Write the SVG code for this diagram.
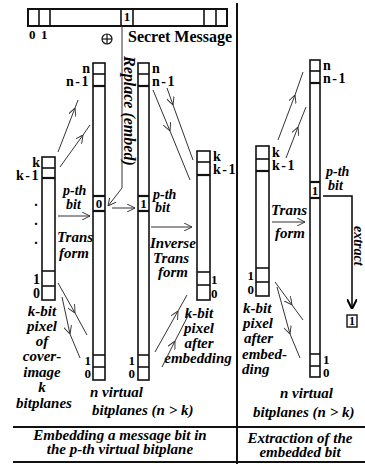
<svg xmlns="http://www.w3.org/2000/svg" width="365" height="464" viewBox="0 0 365 464">
<defs>
<marker id="v" viewBox="0 0 10 10" refX="10" refY="5" markerWidth="8" markerHeight="8" markerUnits="userSpaceOnUse" orient="auto"><path d="M0,0 L10,5 L0,10" fill="none" stroke="#333" stroke-width="1.2"/></marker>
<marker id="vb" viewBox="0 0 10 10" refX="10" refY="5" markerWidth="10" markerHeight="10" markerUnits="userSpaceOnUse" orient="auto"><path d="M0,0 L10,5 L0,10" fill="none" stroke="#000" stroke-width="2"/></marker>
</defs>
<style>
.box{fill:#fff;stroke:#111;stroke-width:1.6}
.ln{stroke:#111;stroke-width:1.6;fill:none}
.c{fill:none;stroke:#333;stroke-width:1}
.m{marker-mid:url(#v)}
.e{marker-end:url(#v)}
.t{font-family:"Liberation Serif","Times New Roman","DejaVu Serif",serif;font-weight:bold;font-size:13px;fill:#000}
.i{font-family:"Liberation Serif","Times New Roman","DejaVu Serif",serif;font-weight:bold;font-style:italic;font-size:15px;fill:#000}
.cap{font-family:"Liberation Serif","Times New Roman","DejaVu Serif",serif;font-weight:bold;font-style:italic;font-size:15px;fill:#000;text-anchor:middle}
.r{text-anchor:end}
.mid{text-anchor:middle}
.s12{font-size:12px}
.s14{font-size:14px}
.s16{font-size:16px}
.ls{letter-spacing:1.5px}
</style>
<rect width="365" height="464" fill="#fff"/>

<g id="frame">
<line class="ln" x1="237" y1="3" x2="237" y2="464" style="stroke-width:2"/>
<line class="ln" x1="13" y1="427" x2="365" y2="427" style="stroke-width:2"/>
<line class="ln" x1="13" y1="462" x2="365" y2="462" style="stroke-width:2"/>
</g>

<g id="secret-message">
<rect class="box" x="28" y="9" width="199" height="17" style="stroke-width:2"/>
<line class="ln" x1="39" y1="9" x2="39" y2="26"/>
<line class="ln" x1="50" y1="9" x2="50" y2="26"/>
<line class="ln" x1="121" y1="9" x2="121" y2="26"/>
<line class="ln" x1="133" y1="9" x2="133" y2="26"/>
<line class="ln" x1="204" y1="9" x2="204" y2="26"/>
<line class="ln" x1="216" y1="9" x2="216" y2="26"/>
<text class="t mid" x="127" y="21">1</text>
<text class="t" x="29" y="39">0</text>
<text class="t" x="41" y="39">1</text>
<text class="t s16" x="128" y="42">Secret Message</text>
</g>

<g id="xor">
<circle cx="107" cy="39" r="5" fill="none" stroke="#111" stroke-width="1.2"/>
<line x1="102" y1="39" x2="112" y2="39" stroke="#111" stroke-width="1.2"/>
<line x1="107" y1="34" x2="107" y2="44" stroke="#111" stroke-width="1.2"/>
</g>

<g id="cover-pixel">
<rect class="box" x="42" y="157" width="13" height="143"/>
<line class="ln" x1="42" y1="168" x2="55" y2="168"/>
<line class="ln" x1="42" y1="178" x2="55" y2="178" style="stroke-width:2.2"/>
<line class="ln" x1="42" y1="271" x2="55" y2="271"/>
<line class="ln" x1="42" y1="286" x2="55" y2="286"/>
<text class="t s14 r" x="40" y="167">k</text>
<text class="t s14 r ls" x="40" y="180">k-1</text>
<text class="t s14 r" x="40" y="284">1</text>
<text class="t s14 r" x="40" y="298">0</text>
<text class="t s14 mid" x="36" y="206">.</text>
<text class="t s14 mid" x="36" y="225">.</text>
<text class="t s14 mid" x="36" y="244">.</text>
<text class="i mid" x="42" y="316">k-bit</text>
<text class="i mid" x="42" y="331">pixel</text>
<text class="i mid" x="42" y="346">of</text>
<text class="i mid" x="42" y="361">cover-</text>
<text class="i mid" x="42" y="377">image</text>
<text class="i mid" x="42" y="392">k</text>
<text class="i mid" x="44" y="408">bitplanes</text>
</g>

<g id="virtual-planes-1">
<rect class="box" x="93" y="63" width="12" height="317"/>
<line class="ln" x1="93" y1="74" x2="105" y2="74"/>
<line class="ln" x1="93" y1="86" x2="105" y2="86" style="stroke-width:2.2"/>
<line class="ln" x1="93" y1="196" x2="105" y2="196" style="stroke-width:2.2"/>
<line class="ln" x1="93" y1="211" x2="105" y2="211" style="stroke-width:2.2"/>
<line class="ln" x1="93" y1="355" x2="105" y2="355"/>
<line class="ln" x1="93" y1="367" x2="105" y2="367"/>
<text class="t mid" x="99" y="208">0</text>
<text class="t s14 r" x="90" y="73">n</text>
<text class="t s14 r ls" x="90" y="86">n-1</text>
<text class="t r" x="91" y="365">1</text>
<text class="t r" x="91" y="378">0</text>
<text class="i s14" x="63" y="195">p-th</text>
<text class="i s14" x="66" y="209">bit</text>
<text class="i" x="57" y="242">Trans</text>
<text class="i" x="59" y="258">form</text>
</g>

<g id="virtual-planes-2">
<rect class="box" x="138" y="63" width="11" height="317"/>
<line class="ln" x1="138" y1="74" x2="149" y2="74"/>
<line class="ln" x1="138" y1="86" x2="149" y2="86" style="stroke-width:2.2"/>
<line class="ln" x1="138" y1="196" x2="149" y2="196" style="stroke-width:2.2"/>
<line class="ln" x1="138" y1="211" x2="149" y2="211" style="stroke-width:2.2"/>
<line class="ln" x1="138" y1="355" x2="149" y2="355"/>
<line class="ln" x1="138" y1="367" x2="149" y2="367"/>
<text class="t mid" x="143.5" y="208">1</text>
<text class="t s14" x="152" y="73">n</text>
<text class="t s14 ls" x="152" y="86">n-1</text>
<text class="t r" x="135" y="365">1</text>
<text class="t r" x="135" y="378">0</text>
<text class="i s14" x="153" y="199">p-th</text>
<text class="i s14" x="155" y="212">bit</text>
<text class="i" x="150" y="248">Inverse</text>
<text class="i" x="153" y="263">Trans</text>
<text class="i" x="158" y="277">form</text>
<text class="i" x="90" y="397">n virtual</text>
<text class="i" x="92" y="415">bitplanes (n &gt; k)</text>
</g>

<g id="stego-pixel">
<rect class="box" x="197" y="151" width="13" height="149"/>
<line class="ln" x1="197" y1="162" x2="210" y2="162"/>
<line class="ln" x1="197" y1="175" x2="210" y2="175" style="stroke-width:2.2"/>
<line class="ln" x1="197" y1="272" x2="210" y2="272"/>
<line class="ln" x1="197" y1="285" x2="210" y2="285"/>
<text class="t s14" x="213" y="161">k</text>
<text class="t s14 ls" x="213" y="174">k-1</text>
<text class="t" x="211" y="284">1</text>
<text class="t" x="211" y="298">0</text>
<text class="i mid" x="199" y="318">k-bit</text>
<text class="i mid" x="199" y="333">pixel</text>
<text class="i mid" x="199" y="348">after</text>
<text class="i mid" x="198" y="363">embedding</text>
</g>

<g id="extract-pixel">
<rect class="box" x="256" y="146" width="13" height="150"/>
<line class="ln" x1="256" y1="159" x2="269" y2="159"/>
<line class="ln" x1="256" y1="171" x2="269" y2="171" style="stroke-width:2.2"/>
<line class="ln" x1="256" y1="268" x2="269" y2="268"/>
<line class="ln" x1="256" y1="282" x2="269" y2="282"/>
<text class="t s14" x="272" y="157">k</text>
<text class="t s14 ls" x="272" y="170">k-1</text>
<text class="t r" x="254" y="280">1</text>
<text class="t r" x="254" y="294">0</text>
<text class="i" x="243" y="313">k-bit</text>
<text class="i" x="243" y="328">pixel</text>
<text class="i" x="244" y="343">after</text>
<text class="i" x="242" y="359">embed-</text>
<text class="i" x="242" y="374">ding</text>
<text class="i" x="271" y="215">Trans</text>
<text class="i" x="275" y="238">form</text>
</g>

<g id="extract-virtual">
<rect class="box" x="310" y="60" width="10" height="317"/>
<line class="ln" x1="310" y1="71" x2="320" y2="71"/>
<line class="ln" x1="310" y1="83" x2="320" y2="83" style="stroke-width:2.2"/>
<line class="ln" x1="310" y1="182" x2="320" y2="182" style="stroke-width:2.2"/>
<line class="ln" x1="310" y1="198" x2="320" y2="198" style="stroke-width:2.2"/>
<line class="ln" x1="310" y1="354" x2="320" y2="354"/>
<line class="ln" x1="310" y1="366" x2="320" y2="366"/>
<text class="t mid" x="315" y="195">1</text>
<text class="t s14" x="323" y="70">n</text>
<text class="t s14 ls" x="323" y="83">n-1</text>
<text class="t" x="323" y="364">1</text>
<text class="t" x="323" y="377">0</text>
<text class="i s14" x="326" y="176">p-th</text>
<text class="i s14" x="328" y="190">bit</text>
<text class="i" x="280" y="398">n virtual</text>
<text class="i" x="253" y="417">bitplanes (n &gt; k)</text>
</g>

<g id="extracted-bit">
<rect class="box" x="347" y="315" width="10" height="12" style="stroke-width:1.4"/>
<text class="t s12 mid" x="352" y="325">1</text>
</g>

<g id="connectors">
<path class="c m" d="M58,152 L75,108 L78,100"/>
<path class="c m" d="M60,167 L83,135 L90,125"/>
<path class="c m" d="M153,90 L170,131 L190,180"/>
<path class="c m" d="M167,88 L173,105 L193,160"/>
<path class="c m" d="M58,283 L75,313 L87,335"/>
<path class="c m" d="M62,297 L70,334 L80,358"/>
<path class="c m" d="M155,352 L178,311 L187,295"/>
<path class="c m" d="M162,367 L175,341 L190,312"/>
<path class="c m" d="M278,140 L295,95 L303,72"/>
<path class="c m" d="M286,158 L298,127 L306,107"/>
<path class="c m" d="M275,282 L292,305 L303,320"/>
<path class="c m" d="M277,287 L290,334 L300,358"/>
<line class="c e" x1="58" y1="216" x2="90" y2="216"/>
<line class="c e" x1="151" y1="227" x2="192" y2="227"/>
<line class="c e" x1="272" y1="222" x2="305" y2="222"/>
<line class="c e" x1="112" y1="208" x2="135" y2="208"/>
<path class="c e" d="M122,26 L122,188 L108,206"/>
<path d="M323,196 L352,196 L352,309" fill="none" stroke="#000" stroke-width="1.5" marker-end="url(#vb)"/>
<text class="i s16" transform="translate(124,56) rotate(90)">Replace (embed)</text>
<text class="i s14" transform="translate(354,226) rotate(90)">extract</text>
</g>

<g id="captions">
<text class="cap" x="120" y="440">Embedding a message bit in</text>
<text class="cap" x="120" y="454">the p-th virtual bitplane</text>
<text class="cap" x="300" y="443">Extraction of the</text>
<text class="cap" x="300" y="457">embedded bit</text>
</g>
</svg>
